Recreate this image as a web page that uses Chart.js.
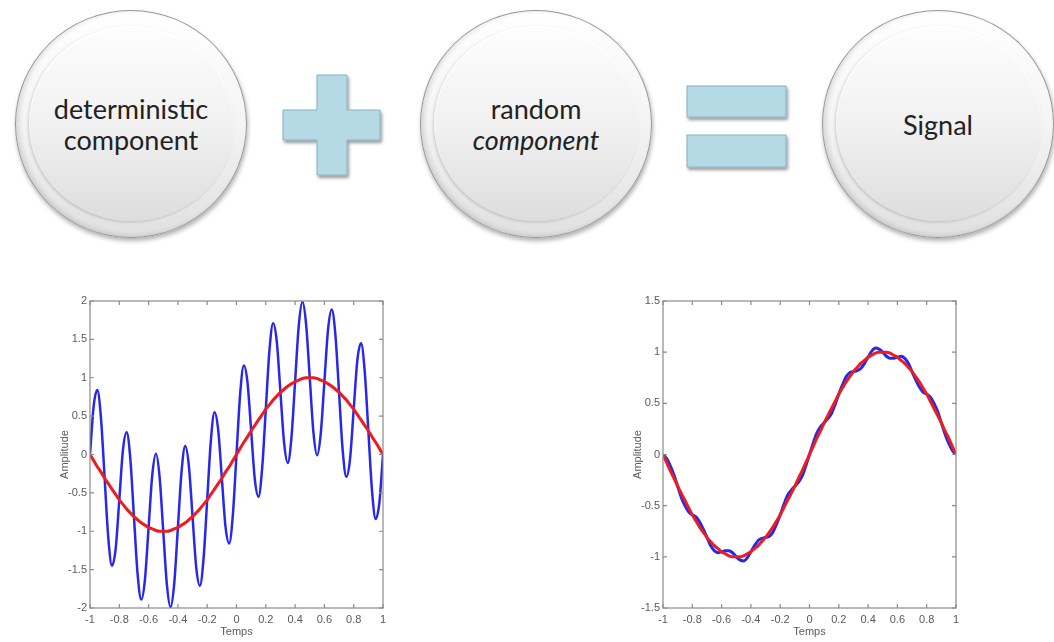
<!DOCTYPE html>
<html>
<head>
<meta charset="utf-8">
<title>Signal</title>
<script src="https://cdn.jsdelivr.net/npm/chart.js@4.4.1/dist/chart.umd.min.js"></script>
<style>
  html, body { margin: 0; padding: 0; background: #fff; }
  body { width: 1054px; height: 642px; position: relative; overflow: hidden; font-family: Lato, "Open Sans", sans-serif; }

  .bubble {
    position: absolute; top: 10px; width: 230px; height: 226px; border-radius: 50%;
    background: linear-gradient(to bottom, #ffffff 0%, #f4f4f4 50%, #e0e0e0 100%);
    border: 1px solid #979797;
    box-shadow: 1px 3px 4px rgba(0,0,0,0.3), inset 3px -1px 5px rgba(0,0,0,0.12);
  }
  .bubble .face {
    position: absolute; left: 13px; right: 12px; top: 15px; bottom: 16px; border-radius: 50%;
    background: linear-gradient(to bottom, #fdfdfd 0%, #f1f1f1 50%, #dddddd 100%);
    box-shadow: -1px 1px 3px rgba(0,0,0,0.18), inset 0 2px 2px rgba(255,255,255,0.9);
  }
  .bubble .label {
    position: absolute; left: 0; right: 0; top: 0; bottom: 0;
    display: flex; flex-direction: column; align-items: center; justify-content: center;
    font-size: 27px; line-height: 31px; color: #222;
  }
  .label i { font-style: italic; }

  .sign { position: absolute; overflow: visible; }
  .chart { position: absolute; top: 290px; }
</style>
</head>
<body>

<div class="bubble" style="left:15px"><div class="face"></div>
  <div class="label"><span>deterministic</span><span>component</span></div></div>

<svg class="sign" style="left:280px; top:72px" width="110" height="112">
  <defs>
    <filter id="shadow" x="-20%" y="-20%" width="140%" height="140%">
      <feDropShadow dx="1.5" dy="2.5" stdDeviation="1.5" flood-color="#000" flood-opacity="0.4"/>
    </filter>
  </defs>
  <polygon points="37,3 67,3 67,38 100,38 100,68 67,68 67,103 37,103 37,68 3,68 3,38 37,38"
           fill="#b5dae6" stroke="#88b0c0" stroke-width="1" filter="url(#shadow)"/>
</svg>

<div class="bubble" style="left:420px"><div class="face"></div>
  <div class="label"><span>random</span><i>component</i></div></div>

<svg class="sign" style="left:680px; top:80px" width="115" height="95">
  <rect x="7" y="6" width="99" height="31" fill="#b5dae6" stroke="#88b0c0" stroke-width="1" filter="url(#shadow)"/>
  <rect x="7" y="55" width="99" height="32" fill="#b5dae6" stroke="#88b0c0" stroke-width="1" filter="url(#shadow)"/>
</svg>

<div class="bubble" style="left:822px"><div class="face"></div>
  <div class="label"><span>Signal</span></div></div>

<canvas id="noisy" class="chart" style="left:40px" width="360" height="352"></canvas>
<canvas id="smooth" class="chart" style="left:613px" width="360" height="352"></canvas>

<script>
// time axis, step 0.025
const temps = [
  -1, -0.975, -0.95, -0.925, -0.9, -0.875, -0.85, -0.825, -0.8, -0.775,
  -0.75, -0.725, -0.7, -0.675, -0.65, -0.625, -0.6, -0.575, -0.55, -0.525,
  -0.5, -0.475, -0.45, -0.425, -0.4, -0.375, -0.35, -0.325, -0.3, -0.275,
  -0.25, -0.225, -0.2, -0.175, -0.15, -0.125, -0.1, -0.075, -0.05, -0.025,
  0, 0.025, 0.05, 0.075, 0.1, 0.125, 0.15, 0.175, 0.2, 0.225,
  0.25, 0.275, 0.3, 0.325, 0.35, 0.375, 0.4, 0.425, 0.45, 0.475,
  0.5, 0.525, 0.55, 0.575, 0.6, 0.625, 0.65, 0.675, 0.7, 0.725,
  0.75, 0.775, 0.8, 0.825, 0.85, 0.875, 0.9, 0.925, 0.95, 0.975, 1
];

// red curve, same in both plots
const deterministic = [
  0, -0.08, -0.16, -0.23, -0.31, -0.38, -0.45, -0.52, -0.59, -0.65,
  -0.71, -0.76, -0.81, -0.85, -0.89, -0.92, -0.95, -0.97, -0.99, -1.00,
  -1.00, -1.00, -0.99, -0.97, -0.95, -0.92, -0.89, -0.85, -0.81, -0.76,
  -0.71, -0.65, -0.59, -0.52, -0.45, -0.38, -0.31, -0.23, -0.16, -0.08,
  0, 0.08, 0.16, 0.23, 0.31, 0.38, 0.45, 0.52, 0.59, 0.65,
  0.71, 0.76, 0.81, 0.85, 0.89, 0.92, 0.95, 0.97, 0.99, 1.00,
  1.00, 1.00, 0.99, 0.97, 0.95, 0.92, 0.89, 0.85, 0.81, 0.76,
  0.71, 0.65, 0.59, 0.52, 0.45, 0.38, 0.31, 0.23, 0.16, 0.08, 0
];

// blue curve, left plot
const noisySignal = [
  0, 0.63, 0.84, 0.47, -0.31, -1.09, -1.45, -1.23, -0.59, 0.06,
  0.29, -0.05, -0.81, -1.56, -1.89, -1.63, -0.95, -0.27, 0.01, -0.29,
  -1.00, -1.70, -1.99, -1.68, -0.95, -0.22, 0.11, -0.15, -0.81, -1.47,
  -1.71, -1.36, -0.59, 0.18, 0.55, 0.32, -0.31, -0.94, -1.16, -0.79,
  0, 0.79, 1.16, 0.94, 0.31, -0.32, -0.55, -0.18, 0.59, 1.36,
  1.71, 1.47, 0.81, 0.15, -0.11, 0.22, 0.95, 1.68, 1.99, 1.70,
  1.00, 0.29, -0.01, 0.27, 0.95, 1.63, 1.89, 1.56, 0.81, 0.05,
  -0.29, -0.06, 0.59, 1.23, 1.45, 1.09, 0.31, -0.47, -0.84, -0.63, 0
];

// blue curve, right plot
const smoothSignal = [
  0, -0.04, -0.11, -0.20, -0.31, -0.42, -0.50, -0.56, -0.59, -0.61,
  -0.66, -0.73, -0.81, -0.89, -0.94, -0.96, -0.95, -0.94, -0.94, -0.96,
  -1.00, -1.03, -1.04, -1.01, -0.95, -0.89, -0.84, -0.82, -0.81, -0.80,
  -0.76, -0.68, -0.59, -0.49, -0.40, -0.35, -0.31, -0.27, -0.21, -0.11,
  0, 0.11, 0.21, 0.27, 0.31, 0.35, 0.40, 0.49, 0.59, 0.68,
  0.76, 0.80, 0.81, 0.82, 0.84, 0.89, 0.95, 1.01, 1.04, 1.03,
  1.00, 0.96, 0.94, 0.94, 0.95, 0.96, 0.94, 0.89, 0.81, 0.73,
  0.66, 0.61, 0.59, 0.56, 0.50, 0.42, 0.31, 0.20, 0.11, 0.04, 0
];

const xTicks = [-1, -0.8, -0.6, -0.4, -0.2, 0, 0.2, 0.4, 0.6, 0.8, 1];
const yRangeNoisy = [-2, 2];
const yRangeSmooth = [-1.5, 1.5];

const AXIS = '#8a8a8a';
const TEXT = '#5a5a5a';
const FONT = '"Liberation Sans Narrow", "Liberation Sans", Arial, sans-serif';

const points = values => temps.map((t, i) => ({ x: t, y: values[i] }));

// MATLAB-like box with inward ticks on every side
const boxFrame = {
  id: 'boxFrame',
  afterDraw(chart) {
    const { ctx, chartArea: a, scales: { x, y } } = chart;
    const len = 4;
    ctx.save();
    ctx.strokeStyle = AXIS;
    ctx.lineWidth = 1.2;
    ctx.strokeRect(a.left, a.top, a.right - a.left, a.bottom - a.top);
    ctx.beginPath();
    x.ticks.forEach(t => {
      const px = x.getPixelForValue(t.value);
      ctx.moveTo(px, a.bottom); ctx.lineTo(px, a.bottom - len);
      ctx.moveTo(px, a.top); ctx.lineTo(px, a.top + len);
    });
    y.ticks.forEach(t => {
      const py = y.getPixelForValue(t.value);
      ctx.moveTo(a.left, py); ctx.lineTo(a.left + len, py);
      ctx.moveTo(a.right, py); ctx.lineTo(a.right - len, py);
    });
    ctx.stroke();
    ctx.restore();
  }
};

function fmt(v) {
  return String(Math.round(v * 10) / 10);
}

function makePlot(id, blue, yRange, blueWidth) {
  return new Chart(document.getElementById(id), {
    type: 'scatter',
    data: {
      datasets: [
        {
          data: points(deterministic),
          showLine: true, borderColor: 'rgb(238,28,28)', borderWidth: 3,
          pointRadius: 0, cubicInterpolationMode: 'monotone'
        },
        {
          data: points(blue),
          showLine: true, borderColor: 'rgb(40,40,235)', borderWidth: blueWidth,
          pointRadius: 0, cubicInterpolationMode: 'monotone'
        }
      ]
    },
    options: {
      responsive: false,
      animation: false,
      devicePixelRatio: 1,
      layout: { padding: { top: 11, right: 17, bottom: 0, left: 0 } },
      plugins: { legend: { display: false }, tooltip: { enabled: false } },
      scales: {
        x: {
          type: 'linear', min: xTicks[0], max: xTicks[xTicks.length - 1],
          afterBuildTicks: s => { s.ticks = xTicks.map(v => ({ value: v })); },
          afterFit: s => { s.height = 34; },
          grid: { display: false, drawTicks: false },
          border: { display: false },
          ticks: { autoSkip: false, maxRotation: 0, padding: 5, color: TEXT,
                   font: { family: FONT, size: 11 }, callback: fmt },
          title: { display: true, text: 'Temps', color: TEXT,
                   font: { family: FONT, size: 11 }, padding: { bottom: 3 } }
        },
        y: {
          min: yRange[0], max: yRange[1],
          afterFit: s => { s.width = 50; },
          grid: { display: false, drawTicks: false },
          border: { display: false },
          ticks: { stepSize: 0.5, padding: 3, color: TEXT,
                   font: { family: FONT, size: 11 }, callback: fmt },
          title: { display: true, text: 'Amplitude', color: TEXT,
                   font: { family: FONT, size: 11 }, padding: { top: 18 } }
        }
      }
    },
    plugins: [boxFrame]
  });
}

makePlot('noisy', noisySignal, yRangeNoisy, 2.5);
makePlot('smooth', smoothSignal, yRangeSmooth, 3);
</script>
</body>
</html>
